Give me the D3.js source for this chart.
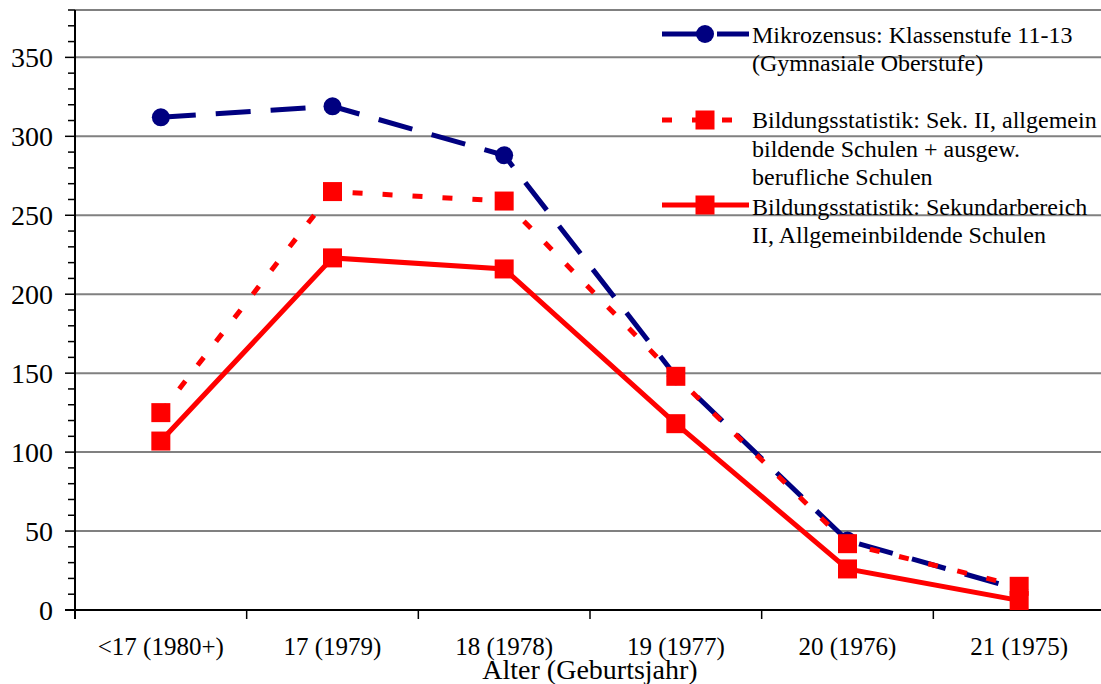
<!DOCTYPE html>
<html>
<head>
<meta charset="utf-8">
<script src="https://cdn.jsdelivr.net/npm/d3@7"></script>
<style>
  body { margin: 0; background: #fff; }
  svg text { font-family: "Liberation Serif", "Times New Roman", serif; fill: #000; }
</style>
</head>
<body>
<svg id="chart" width="1101" height="684"></svg>
<script>
const categories = ["<17 (1980+)", "17 (1979)", "18 (1978)", "19 (1977)", "20 (1976)", "21 (1975)"];
const mikrozensus = [312, 319, 288, 148, 44, 13];
const sekIIAusgew = [125, 265, 259, 148, 42, 15];
const sekIIAllg = [107, 223, 216, 118, 26, 6];
const yTicks = [0, 50, 100, 150, 200, 250, 300, 350];
const xTitle = "Alter (Geburtsjahr)";

const series = [
  { name: ["Mikrozensus: Klassenstufe 11-13", "(Gymnasiale Oberstufe)"], values: mikrozensus,
    color: "#000080", dash: "35,20", marker: "circle" },
  { name: ["Bildungsstatistik: Sek. II, allgemein", "bildende Schulen + ausgew.", "berufliche Schulen"], values: sekIIAusgew,
    color: "#ff0000", dash: "10,20", marker: "square" },
  { name: ["Bildungsstatistik: Sekundarbereich", "II, Allgemeinbildende Schulen"], values: sekIIAllg,
    color: "#ff0000", dash: null, marker: "square" }
];

const svg = d3.select("#chart");
const plotLeft = 75, plotRight = 1105, plotTop = 10, plotBottom = 610;

const x = d3.scaleBand().domain(categories).range([plotLeft, plotRight]);
const y = d3.scaleLinear().domain([0, 380]).range([plotBottom, plotTop]);

// gridlines
svg.append("g").selectAll("line")
  .data(yTicks.filter(d => d > 0).concat([380]))
  .enter().append("line")
  .attr("x1", plotLeft).attr("x2", plotRight)
  .attr("y1", d => y(d)).attr("y2", d => y(d))
  .attr("stroke", "#808080").attr("stroke-width", 2);

// minor ticks on y axis
svg.append("g").selectAll("line")
  .data(d3.range(0, 381, 10))
  .enter().append("line")
  .attr("x1", d => d % 50 === 0 ? plotLeft - 10 : plotLeft - 7).attr("x2", plotLeft)
  .attr("y1", d => y(d)).attr("y2", d => y(d))
  .attr("stroke", "#000").attr("stroke-width", 1.5);

// axes
svg.append("line").attr("x1", plotLeft).attr("x2", plotLeft).attr("y1", plotTop).attr("y2", plotBottom + 9)
  .attr("stroke", "#000").attr("stroke-width", 2);
svg.append("line").attr("x1", plotLeft - 10).attr("x2", plotRight).attr("y1", plotBottom).attr("y2", plotBottom)
  .attr("stroke", "#000").attr("stroke-width", 2);

// x ticks at band edges
svg.append("g").selectAll("line")
  .data(categories.slice(1))
  .enter().append("line")
  .attr("x1", d => x(d)).attr("x2", d => x(d))
  .attr("y1", plotBottom).attr("y2", plotBottom + 9)
  .attr("stroke", "#000").attr("stroke-width", 1.5);

// y labels
svg.append("g").selectAll("text")
  .data(yTicks)
  .enter().append("text")
  .attr("x", 53).attr("y", d => y(d))
  .attr("dy", "0.35em")
  .attr("text-anchor", "end")
  .style("font-size", "28px")
  .text(d => d);

// x labels
svg.append("g").selectAll("text")
  .data(categories)
  .enter().append("text")
  .attr("x", d => x(d) + x.bandwidth() / 2)
  .attr("y", 655)
  .attr("text-anchor", "middle")
  .style("font-size", "25px")
  .text(d => d);

svg.append("text")
  .attr("x", (plotLeft + plotRight) / 2).attr("y", 679)
  .attr("text-anchor", "middle")
  .style("font-size", "28px")
  .text(xTitle);

const cx = d => x(d) + x.bandwidth() / 2;

const drawMarker = (g, s, px, py) => {
  if (s.marker === "circle") {
    g.append("circle").attr("cx", px).attr("cy", py).attr("r", 9).attr("fill", s.color);
  } else {
    g.append("rect").attr("x", px - 9.5).attr("y", py - 9.5).attr("width", 19).attr("height", 19).attr("fill", s.color);
  }
};

// series
series.forEach(s => {
  const g = svg.append("g");
  const line = d3.line().x((d, i) => cx(categories[i])).y(d => y(d));
  g.append("path")
    .datum(s.values)
    .attr("d", line)
    .attr("fill", "none")
    .attr("stroke", s.color)
    .attr("stroke-width", 5)
    .attr("stroke-dasharray", s.dash);
  s.values.forEach((v, i) => drawMarker(g, s, cx(categories[i]), y(v)));
});

// legend
const legendLines = [34, 120, 205];
const legendText = [[43, 71], [128, 157, 185], [215, 243]];
series.forEach((s, k) => {
  const g = svg.append("g");
  g.append("line")
    .attr("x1", 662).attr("x2", 749)
    .attr("y1", legendLines[k]).attr("y2", legendLines[k])
    .attr("stroke", s.color).attr("stroke-width", 5)
    .attr("stroke-dasharray", s.dash);
  drawMarker(g, s, 705, legendLines[k]);
  s.name.forEach((t, j) => {
    g.append("text")
      .attr("x", 752).attr("y", legendText[k][j])
      .style("font-size", "24px")
      .text(t);
  });
});
</script>
</body>
</html>
